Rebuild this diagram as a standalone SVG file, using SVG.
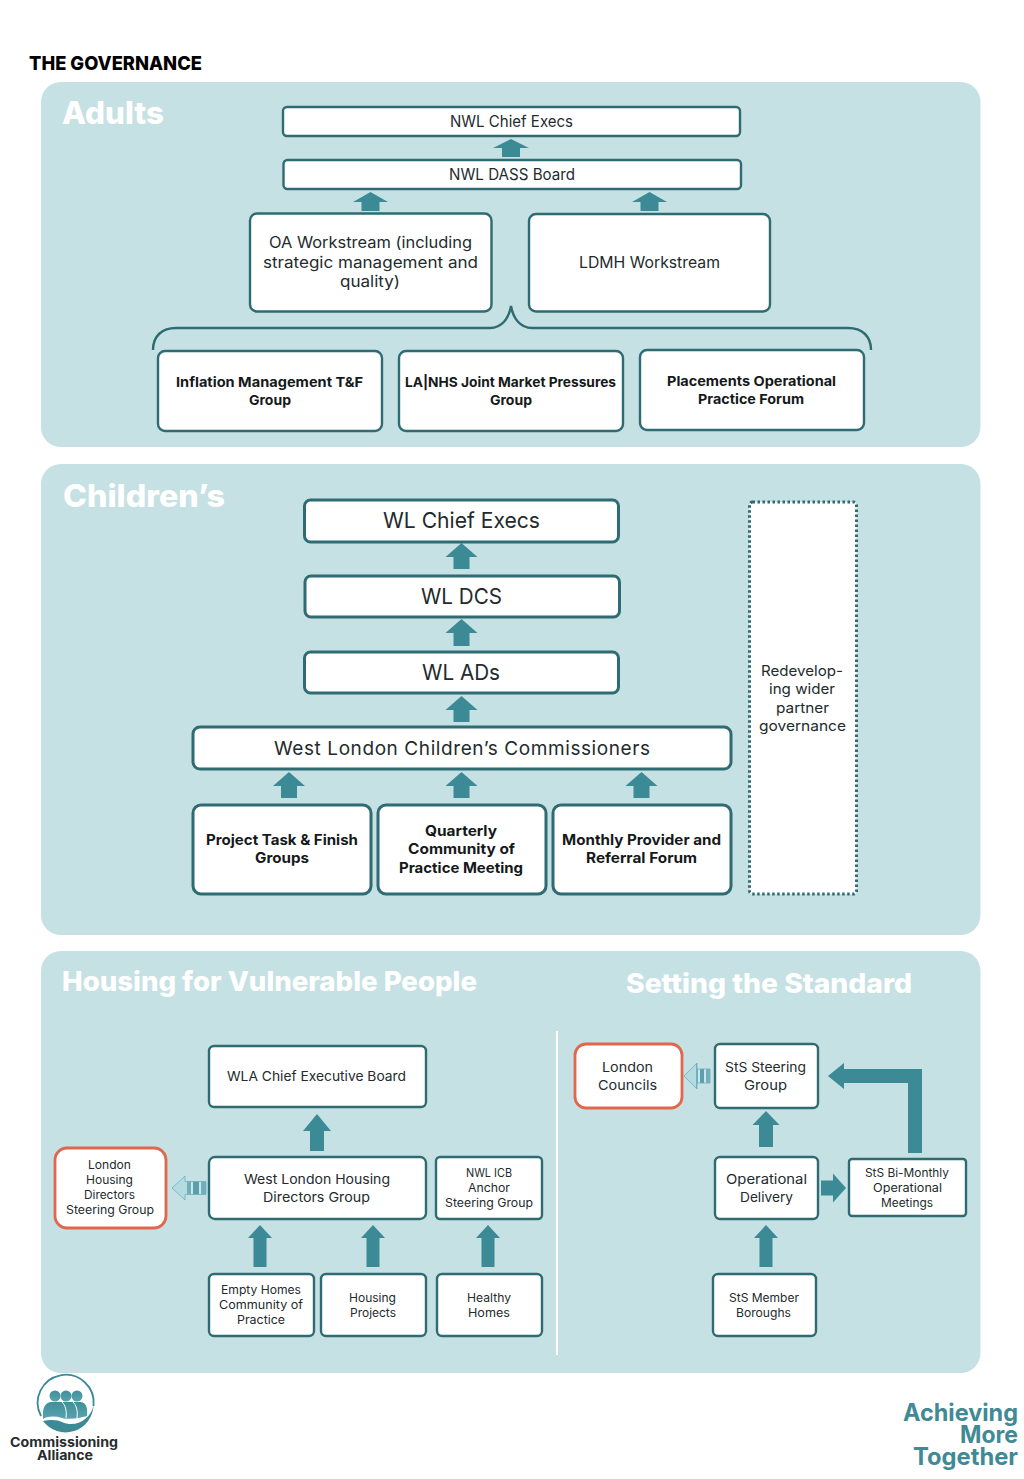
<svg xmlns="http://www.w3.org/2000/svg" width="1024" height="1479" viewBox="0 0 1024 1479">
<style>
text{font-family:"Inter","Open Sans","Liberation Sans",sans-serif;fill:#232b2d}
.panel{fill:#c6e1e4}
.box{fill:#fff;stroke:#2f6b72;stroke-width:2.4}
.thick{stroke-width:3}
.orange{fill:#fff;stroke:#e0664c;stroke-width:2.8}
.dot{fill:#fff;stroke:#2f6b72;stroke-width:3;stroke-dasharray:2.5 2.5}
.arrow{fill:#3b8a96}
.ghost{fill:url(#stripes);stroke:#6fb0b8;stroke-width:.8}
.title{font-weight:800;fill:#fff}
.b{font-weight:700;fill:#15191a}
.s12{font-size:11.500px}.s14{font-size:13.500px}.s15{font-size:14.500px}.s16{font-size:15.500px}
.s23{font-size:22px}
</style>
<defs>
<linearGradient id="stripes" x1="0" x2="1" y1="0" y2="0">
<stop offset="0" stop-color="#b4dbe0"/><stop offset=".45" stop-color="#b4dbe0"/>
<stop offset=".45" stop-color="#6fb0bc"/><stop offset=".55" stop-color="#6fb0bc"/>
<stop offset=".55" stop-color="#cfe6e9"/><stop offset=".62" stop-color="#cfe6e9"/>
<stop offset=".62" stop-color="#5a9fab"/><stop offset=".78" stop-color="#5a9fab"/>
<stop offset=".78" stop-color="#cfe6e9"/><stop offset=".86" stop-color="#cfe6e9"/>
<stop offset=".86" stop-color="#6fb0bc"/><stop offset="1" stop-color="#6fb0bc"/>
</linearGradient>
<linearGradient id="logoG" x1="0" x2="0" y1="0" y2="1">
<stop offset="0" stop-color="#3f8f9b"/><stop offset="1" stop-color="#5aa3ad"/>
</linearGradient>
</defs>

<rect width="1024" height="1479" fill="#fff"/>
<text id="page-title" x="29" y="70" font-size="19" font-weight="800" style="fill:#000" textLength="173" lengthAdjust="spacingAndGlyphs">THE GOVERNANCE</text>

<g id="panels">
<rect class="panel" x="41" y="82" width="939.500" height="365" rx="20"/>
<rect class="panel" x="41" y="464" width="939.500" height="471" rx="20"/>
<rect class="panel" x="41" y="951" width="939.500" height="422" rx="20"/>
<path d="M557 1031V1355" stroke="#fff" stroke-width="2"/>
<text class="title" x="62" y="124" font-size="31" textLength="102" lengthAdjust="spacingAndGlyphs">Adults</text>
<text class="title" x="63" y="507" font-size="31" textLength="162" lengthAdjust="spacingAndGlyphs">Children’s</text>
<text class="title" x="62" y="991" font-size="27" textLength="415" lengthAdjust="spacingAndGlyphs">Housing for Vulnerable People</text>
<text class="title" x="626" y="993" font-size="27" textLength="286" lengthAdjust="spacingAndGlyphs">Setting the Standard</text>
</g>

<g id="connectors">
<path d="M153 350C153 336 162 328 176 328H490C502 328 509 318 511 306C513 318 520 328 532 328H848C862 328 871 336 871 350" fill="none" stroke="#2f6b72" stroke-width="2.400"/>
<g class="arrow">
<polygon points="511,139 529,148 520,148 520,157 502,157 502,148 493,148"/>
<polygon points="370.500,192 388,202 379.500,202 379.500,211 361.500,211 361.500,202 353,202"/>
<polygon points="649.500,192 667,202 658.500,202 658.500,211 640.500,211 640.500,202 632,202"/>
<polygon points="461.500,543 477.500,557 469.500,557 469.500,569 453.500,569 453.500,557 445.500,557"/>
<polygon points="461.500,619 477.500,633 469.500,633 469.500,646 453.500,646 453.500,633 445.500,633"/>
<polygon points="461.500,696 477.500,710 469.500,710 469.500,722 453.500,722 453.500,710 445.500,710"/>
<polygon points="289,772 305,786 297,786 297,798 281,798 281,786 273,786"/>
<polygon points="461.500,772 477.500,786 469.500,786 469.500,798 453.500,798 453.500,786 445.500,786"/>
<polygon points="641.500,772 657.500,786 649.500,786 649.500,798 633.500,798 633.500,786 625.500,786"/>
<polygon points="317,1114 331,1131 324,1131 324,1151 310,1151 310,1131 303,1131"/>
<polygon points="260,1225 272,1238 266.500,1238 266.500,1267 253.500,1267 253.500,1238 248,1238"/>
<polygon points="373,1225 385,1238 379.500,1238 379.500,1267 366.500,1267 366.500,1238 361,1238"/>
<polygon points="488,1225 500,1238 494.500,1238 494.500,1267 481.500,1267 481.500,1238 476,1238"/>
<polygon points="766,1111 779.500,1125 773,1125 773,1147 759,1147 759,1125 752.500,1125"/>
<polygon points="766,1225 778,1238 772.500,1238 772.500,1267 759.500,1267 759.500,1238 754,1238"/>
<polygon points="846,1188 833,1173.500 833,1180.500 821,1180.500 821,1195.500 833,1195.500 833,1202.500"/>
<polygon points="828,1076 844,1063 844,1069 922,1069 922,1153 908,1153 908,1083 844,1083 844,1089"/>
</g>
<polygon class="ghost" points="172,1188 185,1176 185,1181.500 206,1181.500 206,1194.500 185,1194.500 185,1200"/>
<polygon class="ghost" points="684,1076 697,1063 697,1069 710,1069 710,1083 697,1083 697,1089"/>
</g>

<g id="nwl-chief-execs"><rect class="box" x="283" y="107" width="457" height="29" rx="4"/><text class="s16" x="450" y="127" textLength="123" lengthAdjust="spacingAndGlyphs">NWL Chief Execs</text></g>
<g id="nwl-dass-board"><rect class="box" x="283.500" y="160" width="457.500" height="29" rx="4"/><text class="s16" x="449" y="180" textLength="126" lengthAdjust="spacingAndGlyphs">NWL DASS Board</text></g>
<g id="oa-workstream"><rect class="box" x="250" y="213.500" width="241.500" height="98" rx="7"/>
<text class="s16" x="269" y="248" textLength="203" lengthAdjust="spacingAndGlyphs">OA Workstream (including</text>
<text class="s16" x="263" y="268" textLength="215" lengthAdjust="spacingAndGlyphs">strategic management and</text>
<text class="s16" x="340" y="287" textLength="60" lengthAdjust="spacingAndGlyphs">quality)</text></g>
<g id="ldmh-workstream"><rect class="box" x="529" y="214" width="241" height="97.500" rx="7"/><text class="s16" x="579" y="268" textLength="141" lengthAdjust="spacingAndGlyphs">LDMH Workstream</text></g>
<g id="inflation"><rect class="box" x="158" y="351" width="224" height="80" rx="7"/>
<text class="b s14" x="176" y="387" textLength="187" lengthAdjust="spacingAndGlyphs">Inflation Management T&amp;F</text>
<text class="b s14" x="249" y="405" textLength="42" lengthAdjust="spacingAndGlyphs">Group</text></g>
<g id="market-pressures"><rect class="box" x="399" y="351" width="224" height="80" rx="7"/>
<text class="b s14" x="405" y="387" textLength="211" lengthAdjust="spacingAndGlyphs">LA|NHS Joint Market Pressures</text>
<text class="b s14" x="490" y="405" textLength="42" lengthAdjust="spacingAndGlyphs">Group</text></g>
<g id="placements"><rect class="box" x="640" y="350" width="224" height="80" rx="7"/>
<text class="b s14" x="667" y="386" textLength="169" lengthAdjust="spacingAndGlyphs">Placements Operational</text>
<text class="b s14" x="698" y="404" textLength="106" lengthAdjust="spacingAndGlyphs">Practice Forum</text></g>

<g id="wl-chief-execs"><rect class="box thick" x="304.500" y="500" width="314" height="42" rx="6"/><text class="s23" x="383" y="528" textLength="157" lengthAdjust="spacingAndGlyphs">WL Chief Execs</text></g>
<g id="wl-dcs"><rect class="box thick" x="305" y="576" width="314.500" height="41" rx="6"/><text class="s23" x="421" y="604" textLength="81" lengthAdjust="spacingAndGlyphs">WL DCS</text></g>
<g id="wl-ads"><rect class="box thick" x="304.500" y="652" width="314" height="41" rx="6"/><text class="s23" x="422" y="680" textLength="78" lengthAdjust="spacingAndGlyphs">WL ADs</text></g>
<g id="wl-commissioners"><rect class="box thick" x="193" y="727" width="538" height="42" rx="7"/><text x="274" y="755" font-size="19" textLength="376" lengthAdjust="spacing">West London Children’s Commissioners</text></g>
<g id="project-groups"><rect class="box thick" x="193" y="805" width="178" height="89" rx="8"/>
<text class="b s15" x="206" y="845" textLength="152" lengthAdjust="spacingAndGlyphs">Project Task &amp; Finish</text>
<text class="b s15" x="255" y="863" textLength="54" lengthAdjust="spacingAndGlyphs">Groups</text></g>
<g id="quarterly"><rect class="box thick" x="378" y="805" width="168" height="89" rx="8"/>
<text class="b s15" x="425" y="836" textLength="72" lengthAdjust="spacingAndGlyphs">Quarterly</text>
<text class="b s15" x="408" y="854" textLength="107" lengthAdjust="spacingAndGlyphs">Community of</text>
<text class="b s15" x="399" y="873" textLength="124" lengthAdjust="spacingAndGlyphs">Practice Meeting</text></g>
<g id="monthly"><rect class="box thick" x="553" y="805" width="178" height="89" rx="8"/>
<text class="b s15" x="562" y="845" textLength="159" lengthAdjust="spacingAndGlyphs">Monthly Provider and</text>
<text class="b s15" x="586" y="863" textLength="111" lengthAdjust="spacingAndGlyphs">Referral Forum</text></g>
<g id="redeveloping"><rect class="dot" x="749.500" y="502" width="107" height="392" rx="3"/>
<text class="s15" x="761" y="676" textLength="82" lengthAdjust="spacingAndGlyphs">Redevelop-</text>
<text class="s15" x="769" y="694" textLength="66" lengthAdjust="spacingAndGlyphs">ing wider</text>
<text class="s15" x="776" y="713" textLength="53" lengthAdjust="spacingAndGlyphs">partner</text>
<text class="s15" x="759" y="731" textLength="87" lengthAdjust="spacingAndGlyphs">governance</text></g>

<g id="wla-board"><rect class="box" x="209" y="1046" width="217" height="61" rx="5"/><text class="s14" x="227" y="1081" textLength="179" lengthAdjust="spacingAndGlyphs">WLA Chief Executive Board</text></g>
<g id="wl-housing"><rect class="box" x="209" y="1157" width="217" height="62" rx="6"/>
<text class="s14" x="244" y="1184" textLength="146" lengthAdjust="spacingAndGlyphs">West London Housing</text>
<text class="s14" x="263" y="1202" textLength="107" lengthAdjust="spacingAndGlyphs">Directors Group</text></g>
<g id="nwl-icb"><rect class="box" x="436" y="1157" width="106" height="62" rx="4"/>
<text class="s12" x="466" y="1177" textLength="46" lengthAdjust="spacingAndGlyphs">NWL ICB</text>
<text class="s12" x="468" y="1192" textLength="42" lengthAdjust="spacingAndGlyphs">Anchor</text>
<text class="s12" x="445" y="1207" textLength="88" lengthAdjust="spacingAndGlyphs">Steering Group</text></g>
<g id="london-housing"><rect class="orange" x="55" y="1148" width="111" height="80" rx="12"/>
<text class="s12" x="88" y="1169" textLength="43" lengthAdjust="spacingAndGlyphs">London</text>
<text class="s12" x="86" y="1184" textLength="47" lengthAdjust="spacingAndGlyphs">Housing</text>
<text class="s12" x="84" y="1199" textLength="51" lengthAdjust="spacingAndGlyphs">Directors</text>
<text class="s12" x="66" y="1214" textLength="88" lengthAdjust="spacingAndGlyphs">Steering Group</text></g>
<g id="empty-homes"><rect class="box" x="209" y="1274" width="105" height="62" rx="5"/>
<text class="s12" x="221" y="1294" textLength="80" lengthAdjust="spacingAndGlyphs">Empty Homes</text>
<text class="s12" x="219" y="1309" textLength="84" lengthAdjust="spacingAndGlyphs">Community of</text>
<text class="s12" x="237" y="1324" textLength="48" lengthAdjust="spacingAndGlyphs">Practice</text></g>
<g id="housing-projects"><rect class="box" x="321" y="1274" width="105" height="62" rx="5"/>
<text class="s12" x="349" y="1302" textLength="47" lengthAdjust="spacingAndGlyphs">Housing</text>
<text class="s12" x="350" y="1317" textLength="46" lengthAdjust="spacingAndGlyphs">Projects</text></g>
<g id="healthy-homes"><rect class="box" x="437" y="1274" width="105" height="62" rx="5"/>
<text class="s12" x="467" y="1302" textLength="44" lengthAdjust="spacingAndGlyphs">Healthy</text>
<text class="s12" x="468" y="1317" textLength="42" lengthAdjust="spacingAndGlyphs">Homes</text></g>

<g id="london-councils"><rect class="orange" x="575" y="1044" width="107" height="64" rx="11"/>
<text class="s14" x="602" y="1072" textLength="51" lengthAdjust="spacingAndGlyphs">London</text>
<text class="s14" x="598" y="1090" textLength="59" lengthAdjust="spacingAndGlyphs">Councils</text></g>
<g id="sts-steering"><rect class="box" x="715" y="1044" width="103" height="64" rx="5"/>
<text class="s14" x="725" y="1072" textLength="81" lengthAdjust="spacingAndGlyphs">StS Steering</text>
<text class="s14" x="744" y="1090" textLength="43" lengthAdjust="spacingAndGlyphs">Group</text></g>
<g id="operational-delivery"><rect class="box" x="715" y="1157" width="103" height="62" rx="5"/>
<text class="s14" x="726" y="1184" textLength="81" lengthAdjust="spacingAndGlyphs">Operational</text>
<text class="s14" x="740" y="1202" textLength="53" lengthAdjust="spacingAndGlyphs">Delivery</text></g>
<g id="sts-bimonthly"><rect class="box" x="849" y="1159" width="117" height="57" rx="3"/>
<text class="s12" x="865" y="1177" textLength="84" lengthAdjust="spacingAndGlyphs">StS Bi-Monthly</text>
<text class="s12" x="873" y="1192" textLength="69" lengthAdjust="spacingAndGlyphs">Operational</text>
<text class="s12" x="881" y="1207" textLength="52" lengthAdjust="spacingAndGlyphs">Meetings</text></g>
<g id="sts-boroughs"><rect class="box" x="713" y="1274" width="103" height="62" rx="5"/>
<text class="s12" x="729" y="1302" textLength="70" lengthAdjust="spacingAndGlyphs">StS Member</text>
<text class="s12" x="736" y="1317" textLength="55" lengthAdjust="spacingAndGlyphs">Boroughs</text></g>

<g id="logo-commissioning-alliance">
<path d="M41 1416A28 28 0 1 1 93.500 1406" fill="none" stroke="#3b8a96" stroke-width="1.800"/>
<path d="M43 1421A28 28 0 0 0 93.500 1405C91 1420 75 1428 62 1422C58 1420 52 1419 43 1421Z" fill="#3b8a96"/>
<g fill="url(#logoG)">
<circle cx="55" cy="1396" r="5.500"/><circle cx="66" cy="1396" r="5.500"/><circle cx="77" cy="1396" r="5.500"/>
<path d="M43 1419C42 1408 45 1402 52 1402H80C86 1402 88 1408 87 1416C80 1418 70 1420 62 1418C55 1416 48 1416 43 1419Z"/>
</g>
<path d="M66 1418C67 1410 65 1405 62 1402M77 1418C78 1410 76 1405 73 1402" fill="none" stroke="#fff" stroke-width="1"/>
<text x="10" y="1447" font-size="13" font-weight="700" style="fill:#272c2e" textLength="108" lengthAdjust="spacingAndGlyphs">Commissioning</text>
<text x="37" y="1460" font-size="13" font-weight="700" style="fill:#272c2e" textLength="56" lengthAdjust="spacingAndGlyphs">Alliance</text>
</g>
<g id="strapline" font-size="24" font-weight="700">
<text x="903" y="1421" style="fill:#3f8a95" textLength="115" lengthAdjust="spacingAndGlyphs">Achieving</text>
<text x="960" y="1443" style="fill:#3f8a95" textLength="58" lengthAdjust="spacingAndGlyphs">More</text>
<text x="913" y="1465" style="fill:#3f8a95" textLength="105" lengthAdjust="spacingAndGlyphs">Together</text>
</g>
</svg>
